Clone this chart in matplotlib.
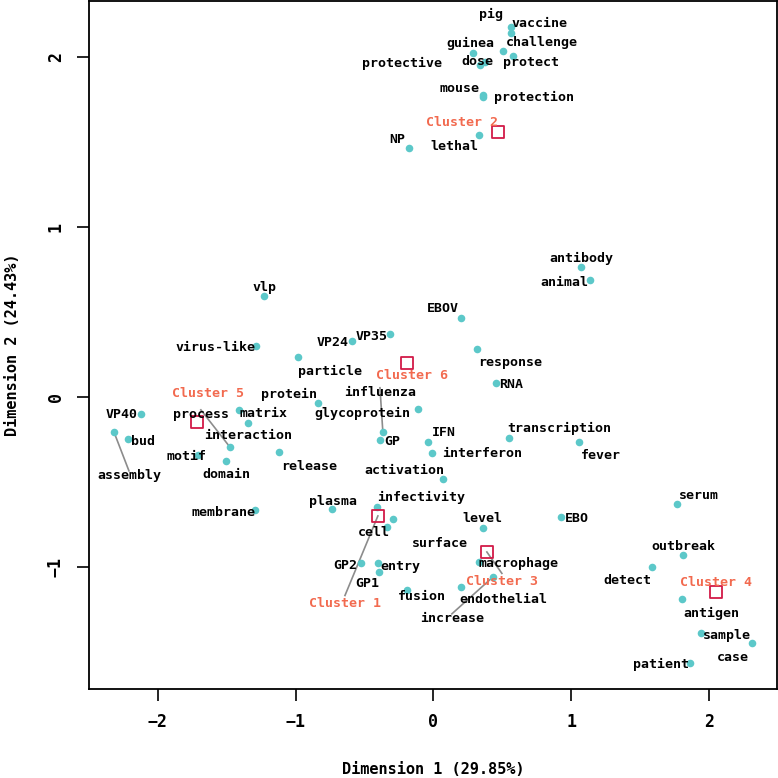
import matplotlib
matplotlib.use('Agg')
import matplotlib.pyplot as plt

# words, point coords and label coords
words = ['pig', 'vaccine', 'guinea', 'challenge', 'protect', 'dose', 'protective',
         'mouse', 'protection', 'lethal', 'NP', 'antibody', 'animal', 'vlp', 'EBOV',
         'VP35', 'VP24', 'virus-like', 'response', 'particle', 'RNA', 'protein',
         'influenza', 'VP40', 'process', 'interaction', 'matrix', 'glycoprotein', 'GP',
         'IFN', 'interferon', 'transcription', 'fever', 'bud', 'assembly', 'motif',
         'domain', 'release', 'activation', 'plasma', 'infectivity', 'cell', 'membrane',
         'level', 'EBO', 'serum', 'surface', 'macrophage', 'outbreak', 'detect', 'GP2',
         'entry', 'GP1', 'fusion', 'endothelial', 'increase', 'antigen', 'sample',
         'case', 'patient']
word_x = [0.563, 0.563, 0.287, 0.505, 0.577, 0.338, 0.374,
          0.359, 0.359, 0.330, -0.178, 1.071, 1.136, -1.230, 0.200,
          -0.316, -0.592, -1.289, 0.316, -0.984, 0.454, -0.838,
          -0.367, -2.123, -1.478, -1.347, -1.412, -0.113, -0.388,
          -0.040, -0.011, 0.548, 1.056, -2.218, -2.319, -1.710,
          -1.506, -1.122, 0.069, -0.737, -0.410, -0.294, -1.296,
          0.359, 0.926, 1.768, -0.338, 0.330, 1.811, 1.586, -0.526,
          -0.403, -0.396, -0.192, 0.200, 0.432, 1.804, 1.942,
          2.312, 1.862]
word_y = [2.141, 2.176, 2.024, 2.035, 2.006, 1.953, 1.971,
          1.776, 1.765, 1.541, 1.465, 0.765, 0.688, 0.594, 0.465,
          0.371, 0.329, 0.300, 0.282, 0.235, 0.082, -0.035,
          -0.206, -0.100, -0.294, -0.153, -0.076, -0.071, -0.253,
          -0.265, -0.329, -0.241, -0.265, -0.247, -0.206, -0.341,
          -0.376, -0.324, -0.482, -0.659, -0.647, -0.718, -0.665,
          -0.771, -0.706, -0.629, -0.765, -0.971, -0.929, -1.000, -0.976,
          -0.976, -1.029, -1.135, -1.118, -1.059, -1.188, -1.388,
          -1.447, -1.565]
label_x = [0.417, 0.773, 0.265, 0.788, 0.708, 0.316, -0.229,
           0.192, 0.730, 0.149, -0.265, 1.071, 0.947, -1.223, 0.069,
           -0.446, -0.730, -1.579, 0.555, -0.751, 0.563, -1.049,
           -0.388, -2.261, -1.688, -1.347, -1.231, -0.519, -0.301,
           0.076, 0.352, 0.911, 1.216, -2.109, -2.210, -1.790,
           -1.506, -0.904, -0.214, -0.730, -0.091, -0.432, -1.521,
           0.359, 1.042, 1.927, 0.047, 0.621, 1.811, 1.405, -0.642,
           -0.243, -0.483, -0.083, 0.505, 0.134, 2.015, 2.131,
           2.174, 1.652]
label_y = [2.247, 2.194, 2.082, 2.082, 1.965, 1.971, 1.959,
           1.812, 1.759, 1.471, 1.512, 0.812, 0.671, 0.641, 0.518,
           0.353, 0.318, 0.288, 0.200, 0.147, 0.071, 0.012,
           0.024, -0.106, -0.106, -0.229, -0.100, -0.100, -0.265,
           -0.212, -0.335, -0.188, -0.347, -0.265, -0.465, -0.353,
           -0.459, -0.412, -0.435, -0.618, -0.594, -0.800, -0.682,
           -0.718, -0.718, -0.582, -0.865, -0.982, -0.882, -1.082, -0.994,
           -1.000, -1.100, -1.176, -1.194, -1.306, -1.271, -1.406,
           -1.535, -1.576]
# labels that were pushed away from their point and got a leader line
moved = ['influenza', 'process', 'assembly', 'increase']

# cluster centres
clusters = ['Cluster 1', 'Cluster 2', 'Cluster 3', 'Cluster 4', 'Cluster 5', 'Cluster 6']
clus_x = [-0.403, 0.468, 0.388, 2.051, -1.717, -0.192]
clus_y = [-0.700, 1.559, -0.912, -1.147, -0.147, 0.200]
clus_lx = [-0.642, 0.207, 0.497, 2.051, -1.637, -0.156]
clus_ly = [-1.218, 1.612, -1.088, -1.094, 0.018, 0.124]
clus_moved = ['Cluster 1', 'Cluster 3']

dot_col = '#5CC8C9'
clus_col = '#F26A4F'
sq_col = '#D21A48'
fnt = 'DejaVu Sans Mono'

fig = plt.figure(figsize=(7.78, 7.78), dpi=100)
ax = fig.add_axes([89 / 778, 1 - 689 / 778, 688 / 778, 688 / 778])

# leader lines first, under the text
for w, x, y, lx, ly in zip(words, word_x, word_y, label_x, label_y):
    if w in moved:
        ax.plot([x, lx], [y, ly + 0.03], color='#8c8c8c', lw=1.2, zorder=1)
for c, x, y, lx, ly in zip(clusters, clus_x, clus_y, clus_lx, clus_ly):
    if c in clus_moved:
        ax.plot([x, lx], [y, ly + 0.05], color='#8c8c8c', lw=1.2, zorder=1)

ax.scatter(word_x, word_y, s=30, color=dot_col, linewidths=0, zorder=2)
ax.scatter(clus_x, clus_y, s=70, marker='s', facecolor='none',
           edgecolor=sq_col, linewidths=1.3, zorder=3)

for w, lx, ly in zip(words, label_x, label_y):
    ax.text(lx, ly, w, ha='center', va='center', fontsize=9.5,
            family=fnt, weight='bold', color='black', zorder=4)
for c, lx, ly in zip(clusters, clus_lx, clus_ly):
    ax.text(lx, ly, c, ha='center', va='center', fontsize=9.5,
            family=fnt, weight='bold', color=clus_col, zorder=4)

ax.set_xlim(-2.50, 2.494)
ax.set_ylim(-1.718, 2.329)
ax.set_xticks([-2, -1, 0, 1, 2])
ax.set_yticks([-1, 0, 1, 2])
ax.tick_params(length=8.5, width=1.2, pad=9, labelsize=12)
for lab in ax.get_xticklabels() + ax.get_yticklabels():
    lab.set_family(fnt)
    lab.set_weight('bold')
for lab in ax.get_yticklabels():
    lab.set_rotation(90)
    lab.set_va('center')
for sp in ax.spines.values():
    sp.set_linewidth(1.3)

fig.text(433 / 778, 1 - 770 / 778, 'Dimension 1 (29.85%)', ha='center', va='center',
         fontsize=11, family=fnt, weight='bold')
fig.text(13 / 778, 1 - 345 / 778, 'Dimension 2 (24.43%)', ha='center', va='center',
         rotation=90, fontsize=11, family=fnt, weight='bold')

fig.savefig('out.png', dpi=100)
